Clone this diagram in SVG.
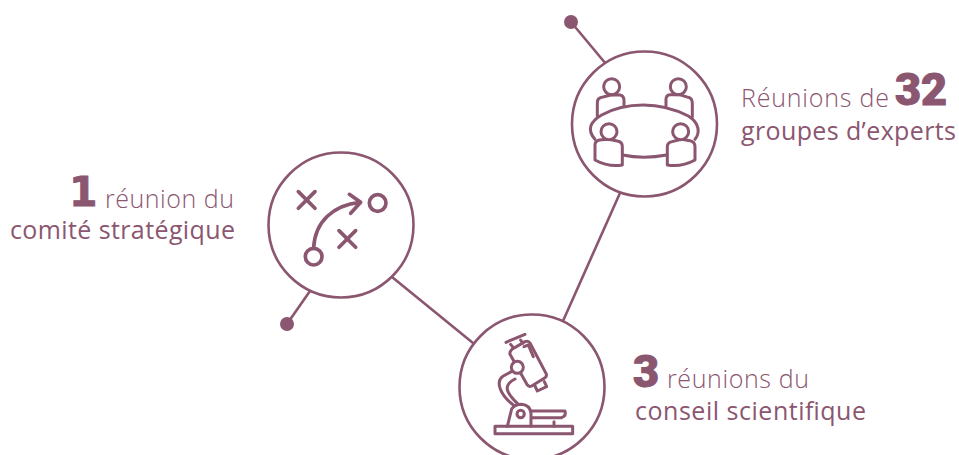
<svg xmlns="http://www.w3.org/2000/svg" width="959" height="455" viewBox="0 0 959 455">
<style>
.c{fill:#fff;stroke:#8b566f;stroke-width:2.6}
.l{fill:none;stroke:#8b566f;stroke-width:2.6;stroke-linecap:round}
.i{fill:none;stroke:#8b566f;stroke-width:9;stroke-linecap:round;stroke-linejoin:round}
.x{stroke-width:11}
.w{fill:#fff}
.d{fill:#8b566f}
text{fill:#8b566f;font-family:"Open Sans","Noto Sans",sans-serif;font-size:25px}
.t{font-weight:300}
.r{font-weight:400}
.b{font-family:Roboto,"Noto Sans",sans-serif;font-weight:900;font-size:45px;stroke:#8b566f;stroke-width:1}
.o{font-family:"DejaVu Sans",sans-serif;font-weight:700;font-size:41px;stroke:#8b566f;stroke-width:.8}
</style>
<g id="connectors">
<line class="l" x1="571" y1="22" x2="606" y2="64"/>
<circle class="d" cx="571" cy="22" r="7"/>
<line class="l" x1="287" y1="324" x2="310" y2="291"/>
<circle class="d" cx="287" cy="324" r="7"/>
<line class="l" x1="392" y1="277" x2="473" y2="343"/>
<line class="l" x1="563" y1="321" x2="620" y2="193"/>
</g>
<g id="node-experts">
<circle class="c" cx="644.5" cy="124" r="72.5"/>
<g transform="translate(560 40) scale(.3333)">
<path class="i" d="M112 228V188Q112 175 125 172L152 165H180Q192 167 192 182V198"/>
<path class="i" d="M318 198V178Q318 165 330 164L358 164L385 172Q397 175 397 190V230"/>
<circle class="i" cx="155" cy="140" r="24"/>
<circle class="i" cx="355" cy="140" r="24"/>
<path class="i" d="M105 298C80 270 90 245 125 225C170 200 215 195 250 195C290 195 340 205 385 228C420 250 420 280 405 298"/>
<path class="i" d="M188 345Q250 358 320 345"/>
<path class="i w" d="M105 360V315Q105 303 118 300L145 298L172 303Q187 305 187 320V375Q145 382 105 360Z"/>
<path class="i w" d="M322 375V320Q322 308 336 305L365 298L390 302Q405 305 405 320V360Q365 382 322 375Z"/>
<circle class="i w" cx="147" cy="275" r="24"/>
<circle class="i w" cx="362" cy="275" r="24"/>
</g>
</g>
<g id="node-comite">
<circle class="c" cx="341" cy="225" r="72.5"/>
<g transform="translate(260 145) scale(.3333)">
<path class="i x" d="M115 140L165 190M165 140L115 190M237 257L287 307M287 257L237 307"/>
<path class="i x" d="M161 308C165 230 220 180 300 172M268 148L302 172L272 205"/>
<circle class="i x" cx="353" cy="174" r="25"/>
<circle class="i x" cx="161" cy="335" r="25"/>
</g>
</g>
<g id="node-conseil">
<circle class="c" cx="532" cy="387" r="72.5"/>
<g transform="translate(450 305) scale(.3333)">
<rect class="i" x="135" y="364" width="233" height="22"/>
<path class="i" d="M245 318H345Q350 332 335 338H245M312 350V364"/>
<path class="i" d="M172 364L185 312Q195 298 215 298Q240 300 243 325V364"/>
<circle class="i" cx="212" cy="327" r="11"/>
<path class="i" d="M190 300C150 270 135 230 160 213L184 200M205 298C165 260 160 240 195 222"/>
<path class="i" d="M168 112L225 88M182 118L190 128M212 105L218 115"/>
<path class="i" d="M180 148Q178 140 186 133L225 110Q235 106 240 114L288 205Q292 213 285 218L245 243Q237 247 232 240Z"/>
<path class="i" d="M222 125L235 120L250 155M255 243L262 258L290 245L283 230"/>
<circle class="i w" cx="202" cy="187" r="18"/>
</g>
</g>
<g id="label-experts">
<text class="t" x="741" y="107" textLength="148">Réunions de</text>
<text class="b" x="895" y="105" textLength="52">32</text>
<text class="r" x="741" y="140" textLength="215">groupes d’experts</text>
</g>
<g id="label-comite">
<text class="o" x="69" y="206">1</text>
<text class="t" x="105" y="208" textLength="129">réunion du</text>
<text class="r" x="10" y="239" textLength="225">comité stratégique</text>
</g>
<g id="label-conseil">
<text class="b" x="633" y="387" textLength="27">3</text>
<text class="t" x="667" y="388" textLength="142">réunions du</text>
<text class="r" x="635" y="420" textLength="231">conseil scientifique</text>
</g>
</svg>
